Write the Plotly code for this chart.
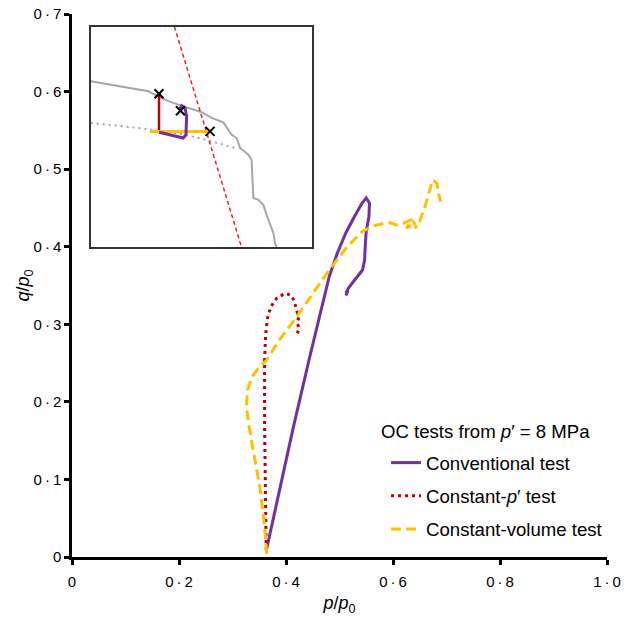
import plotly.graph_objects as go

# ---------------- main data ----------------
conv_p = [0.364, 0.386, 0.414, 0.443, 0.465, 0.481, 0.496, 0.512, 0.528, 0.542, 0.550,
          0.556, 0.555, 0.550, 0.548, 0.547, 0.543, 0.534, 0.525, 0.517, 0.512, 0.516, 0.512]
conv_q = [0.011, 0.082, 0.168, 0.254, 0.319, 0.362, 0.392, 0.418, 0.439, 0.456, 0.463,
          0.456, 0.439, 0.420, 0.400, 0.383, 0.370, 0.362, 0.353, 0.347, 0.340, 0.344, 0.337]

cp_p = [0.363, 0.361, 0.360, 0.360, 0.362, 0.366, 0.372, 0.383, 0.399, 0.410, 0.416,
        0.419, 0.424, 0.421, 0.425, 0.421]
cp_q = [0.009, 0.082, 0.168, 0.254, 0.288, 0.310, 0.323, 0.334, 0.340, 0.337, 0.329,
        0.319, 0.310, 0.301, 0.295, 0.288]

cv_p = [0.364, 0.360, 0.352, 0.342, 0.331, 0.326, 0.328, 0.336, 0.348, 0.364, 0.386,
        0.418, 0.449, 0.481, 0.512, 0.543, 0.569, 0.594, 0.606, 0.619, 0.635, 0.625,
        0.638, 0.644, 0.638, 0.650, 0.660, 0.669, 0.674, 0.682, 0.685, 0.689]
cv_q = [0.004, 0.039, 0.086, 0.125, 0.168, 0.194, 0.215, 0.232, 0.243, 0.254, 0.278,
        0.308, 0.338, 0.370, 0.398, 0.420, 0.428, 0.431, 0.428, 0.430, 0.435, 0.424,
        0.428, 0.424, 0.433, 0.433, 0.452, 0.474, 0.486, 0.482, 0.469, 0.458]

series_names = ["Conventional test", "Constant-<i>p</i>′ test", "Constant-volume test"]
legend_title = "OC tests from <i>p</i>′ = 8 MPa"

x_tickvals = [0, 0.2, 0.4, 0.6, 0.8, 1.0]
x_ticktext = ["0", "0\u2009·\u20092", "0\u2009·\u20094", "0\u2009·\u20096", "0\u2009·\u20098", "1\u2009·\u20090"]
y_tickvals = [0, 0.1, 0.2, 0.3, 0.4, 0.5, 0.6, 0.7]
y_ticktext = ["0", "0\u2009·\u20091", "0\u2009·\u20092", "0\u2009·\u20093", "0\u2009·\u20094",
              "0\u2009·\u20095", "0\u2009·\u20096", "0\u2009·\u20097"]

# ---------------- inset data (normalised inset units) ----------------
inset_gray_u = [0.0, 0.261, 0.299, 0.351, 0.427, 0.502, 0.547, 0.600, 0.638, 0.661, 0.676,
                0.713, 0.728, 0.736, 0.759, 0.781, 0.796, 0.811, 0.827, 0.834, 0.842]
inset_gray_v = [0.753, 0.708, 0.688, 0.663, 0.637, 0.613, 0.587, 0.567, 0.511, 0.496, 0.451,
                0.421, 0.398, 0.224, 0.216, 0.194, 0.148, 0.110, 0.065, 0.020, 0.0]
inset_dot_u = [0.0, 0.125, 0.276, 0.427, 0.548, 0.668]
inset_dot_v = [0.564, 0.552, 0.534, 0.511, 0.481, 0.446]
inset_red_u = [0.379, 0.683]
inset_red_v = [1.0, 0.0]
inset_cp_u = [0.309, 0.309]
inset_cp_v = [0.697, 0.519]
inset_cv_u = [0.268, 0.540]
inset_cv_v = [0.526, 0.526]
inset_conv_u = [0.309, 0.367, 0.419, 0.431, 0.434, 0.427, 0.412, 0.401]
inset_conv_v = [0.522, 0.507, 0.496, 0.511, 0.595, 0.632, 0.643, 0.625]
inset_mark_u = [0.309, 0.406, 0.540]
inset_mark_v = [0.697, 0.620, 0.526]

PURPLE = "#7030a0"
DARKRED = "#c00000"
ORANGE = "#ffc000"
FONT = "Liberation Sans, Arial, sans-serif"
LEG_SIZE = 18.6

fig = go.Figure()

fig.add_trace(go.Scatter(x=conv_p, y=conv_q, mode="lines", name=series_names[0], legendgroup="a",
                         line=dict(color=PURPLE, width=3)))
fig.add_trace(go.Scatter(x=cp_p, y=cp_q, mode="lines", name=series_names[1], legendgroup="b",
                         line=dict(color=DARKRED, width=3, dash="3px,4px")))
fig.add_trace(go.Scatter(x=cv_p, y=cv_q, mode="lines", name=series_names[2], legendgroup="c",
                         line=dict(color=ORANGE, width=3, dash="10px,5px")))

# inset traces
ins = dict(xaxis="x2", yaxis="y2", showlegend=False, hoverinfo="skip")
fig.add_trace(go.Scatter(x=inset_gray_u, y=inset_gray_v, mode="lines",
                         line=dict(color="#a6a6a6", width=2), **ins))
fig.add_trace(go.Scatter(x=inset_dot_u, y=inset_dot_v, mode="lines",
                         line=dict(color="#a6a6a6", width=2, dash="2px,4px"), **ins))
fig.add_trace(go.Scatter(x=inset_red_u, y=inset_red_v, mode="lines",
                         line=dict(color="#ff1a1a", width=1.5, dash="4px,3px"), **ins))
fig.add_trace(go.Scatter(x=inset_cp_u, y=inset_cp_v, mode="lines",
                         line=dict(color=DARKRED, width=2.5), **ins))
fig.add_trace(go.Scatter(x=inset_cv_u, y=inset_cv_v, mode="lines",
                         line=dict(color=ORANGE, width=3), **ins))
fig.add_trace(go.Scatter(x=inset_conv_u, y=inset_conv_v, mode="lines",
                         line=dict(color=PURPLE, width=3), **ins))
fig.add_trace(go.Scatter(x=inset_mark_u, y=inset_mark_v, mode="markers",
                         marker=dict(symbol="x-thin", size=9, line=dict(color="black", width=2)),
                         **ins))

axis_common = dict(showgrid=False, zeroline=False, showline=True, linecolor="black",
                   linewidth=2.5, ticks="outside", ticklen=5, tickwidth=2.5, tickcolor="black",
                   tickfont=dict(family=FONT, size=15, color="black"), automargin=False)

fig.update_layout(
    width=624, height=617,
    margin=dict(l=72, r=17, t=14, b=60, autoexpand=False),
    paper_bgcolor="white", plot_bgcolor="white",
    font=dict(family=FONT, size=16, color="black"),
    xaxis=dict(range=[0, 1.0], tickvals=x_tickvals, ticktext=x_ticktext, ticklabelstandoff=4,
               title=dict(text="<i>p</i>/<i>p</i><sub>0</sub>", font=dict(family=FONT, size=18), standoff=8),
               **axis_common),
    yaxis=dict(range=[0, 0.7], tickvals=y_tickvals, ticktext=y_ticktext,
               title=dict(text="<i>q</i>/<i>p</i><sub>0</sub>", font=dict(family=FONT, size=18), standoff=0),
               **axis_common),
    xaxis2=dict(domain=[0.035, 0.448], range=[0, 1], anchor="y2", showgrid=False, zeroline=False,
                showticklabels=False, ticks="", showline=True, mirror=True,
                linecolor="#333333", linewidth=2),
    yaxis2=dict(domain=[0.570, 0.9764], range=[0, 1], anchor="x2", showgrid=False, zeroline=False,
                showticklabels=False, ticks="", showline=True, mirror=True,
                linecolor="#333333", linewidth=2),
    legend=dict(x=0.587, y=0.208, xanchor="left", yanchor="top",
                bgcolor="rgba(0,0,0,0)",
                font=dict(family=FONT, size=LEG_SIZE, color="black"),
                tracegroupgap=6),
    annotations=[dict(text=legend_title, x=0.574, y=0.2304, xref="paper", yref="paper",
                      xanchor="left", yanchor="middle", showarrow=False,
                      font=dict(family=FONT, size=LEG_SIZE, color="black"))],
    showlegend=True,
)

fig.write_html("out.html")
